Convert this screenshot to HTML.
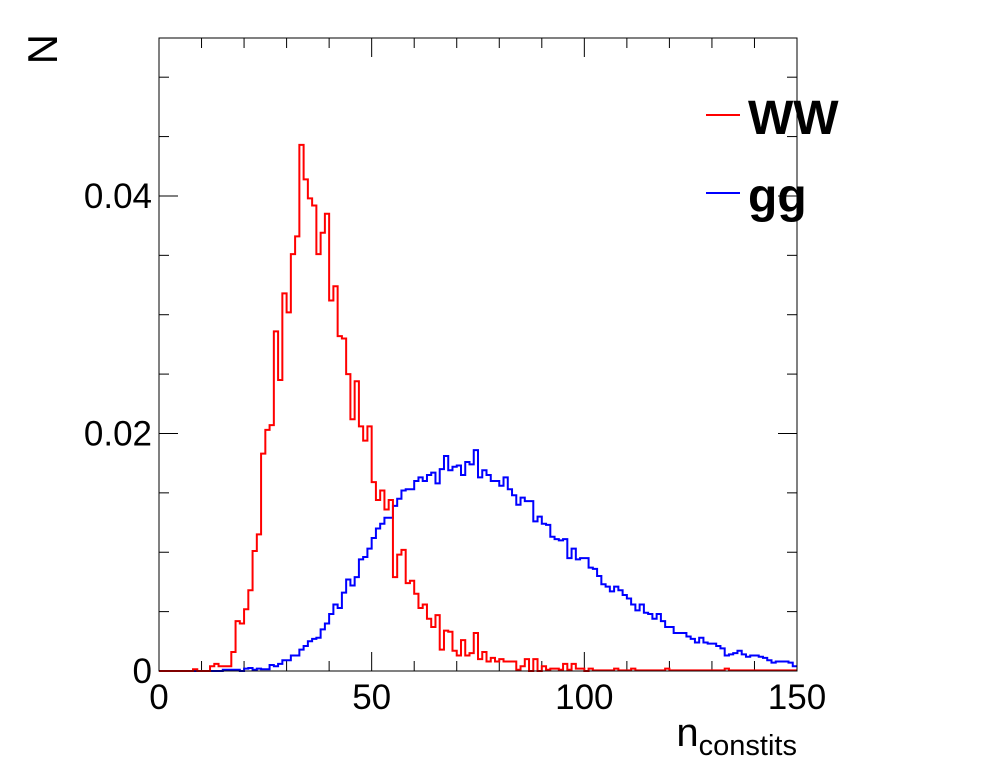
<!DOCTYPE html>
<html><head><meta charset="utf-8"><style>
body{margin:0;background:#fff;}
svg{display:block;font-family:"Liberation Sans",sans-serif;}
</style></head><body>
<svg id="chart" width="996" height="772" viewBox="0 0 996 772">
<rect x="0" y="0" width="996" height="772" fill="#fff"/>
<g id="ticks"></g>
<g id="series"></g>
<rect x="159" y="38" width="638" height="633" fill="none" stroke="#000" stroke-width="1"/>
<text transform="translate(57,34) rotate(-90)" font-size="42" text-anchor="end">N</text>
<text x="797" y="746" font-size="40" text-anchor="end">n<tspan font-size="29" dy="9">constits</tspan></text>
<g>
<line x1="706" y1="115" x2="740" y2="115" stroke="#f00" stroke-width="2"/>
<text x="748" y="134" font-size="48" font-weight="bold">WW</text>
<line x1="706" y1="193" x2="740" y2="193" stroke="#00f" stroke-width="2"/>
<text x="748" y="212" font-size="48" font-weight="bold">gg</text>
</g>
</svg>
<script>
const xTickLabels = [0, 50, 100, 150];
const yTickLabels = [0, 0.02, 0.04];
const wwValues = [0,0,0,0,0,0,0,0,0.00015,0,0,0,0.0004,0.0006,0.0004,0.0004,0.0004,0.0016,0.0042,0.0040,
0.0052,0.0068,0.0101,0.0115,0.0183,0.0203,0.0207,0.0286,0.0245,0.0318,0.0302,0.0351,0.0366,0.0443,0.0414,0.0398,0.0392,0.0351,0.0369,0.0385,
0.0312,0.0324,0.0282,0.0280,0.0250,0.0212,0.0244,0.0206,0.0194,0.0206,0.0159,0.0144,0.0152,0.0136,0.0144,0.0079,0.0098,0.0102,0.0074,0.0076,
0.0065,0.0053,0.0056,0.0044,0.0037,0.0047,0.0018,0.0034,0.0033,0.0017,0.0013,0.0026,0.0013,0.0015,0.0032,0.0010,0.0016,0.0008,0.0011,0.0008,
0.0010,0.0008,0.0008,0.0008,0.0001,0.0004,0.0010,0,0.0010,0,0.0004,0.0001,0.0002,0.0002,0.0001,0.0006,0.0001,0.0006,0.0002,0.0002,
0,0.0002,0.00005,0.00005,0.00005,0.00005,0.00005,0.0002,0.00005,0.00005,0.00005,0.0002,0.00005,0.00005,0.00005,0.00005,0.00005,0.00005,0.00005,0.0002,
0.00005,0.00005,0.00005,0.00005,0.00005,0.00005,0.00005,0.00005,0.00005,0.00005,0.00005,0.00005,0.00005,0.0002,0.00005,0.00005,0.00005,0.00005,0.00005,0.00005,
0.00005,0.00005,0.00005,0.00005,0.00005,0.00005,0.00005,0.00005,0.00005,0.00005];
const ggValues = [0,0,0,0,0,0,0,0,0,0,0,0,0,0,0,0.0001,0.0001,0.0001,0.0001,0,
0.0002,0.00025,0.0001,0.0002,0.00015,0.00015,0.0005,0.0004,0.0006,0.0009,0.0009,0.0013,0.0013,0.0018,0.0021,0.0025,0.0027,0.0028,0.0035,0.0040,
0.0048,0.0056,0.0053,0.0066,0.0077,0.0072,0.0079,0.0094,0.0096,0.0103,0.0112,0.0120,0.0124,0.0129,0.0129,0.0139,0.0145,0.0152,0.0153,0.0153,
0.0160,0.0163,0.0160,0.0165,0.0167,0.0158,0.0170,0.0181,0.0169,0.0172,0.0173,0.0165,0.0176,0.0174,0.0186,0.0163,0.0169,0.0165,0.0160,0.0160,
0.0156,0.0163,0.0153,0.0148,0.0140,0.0146,0.0143,0.0143,0.0126,0.0130,0.0124,0.0123,0.0113,0.0111,0.0110,0.0111,0.0095,0.0103,0.0094,0.0095,
0.0095,0.0087,0.0086,0.0080,0.0073,0.0071,0.0067,0.0071,0.0068,0.0064,0.0061,0.0056,0.0051,0.0056,0.0049,0.0048,0.0044,0.0048,0.0042,0.0037,
0.0037,0.0032,0.0032,0.0032,0.0029,0.0027,0.0024,0.0028,0.0024,0.0023,0.0023,0.0021,0.0019,0.0013,0.0014,0.0015,0.0017,0.0014,0.0012,0.0013,
0.0013,0.0012,0.0011,0.0009,0.0007,0.0008,0.0008,0.0008,0.0007,0.0004];

const X0=159, X1=797, Y0=671, Y1=38, XMIN=0, XMAX=150, YMAX=0.0533;
const sx = v => X0 + (v - XMIN) / (XMAX - XMIN) * (X1 - X0);
const sy = v => Y0 - v / YMAX * (Y0 - Y1);
const NS = 'http://www.w3.org/2000/svg';
const tg = document.getElementById('ticks');
const sg = document.getElementById('series');

function line(g, x1, y1, x2, y2, name) {
  const l = document.createElementNS(NS, 'line');
  l.setAttribute('x1', x1); l.setAttribute('y1', y1);
  l.setAttribute('x2', x2); l.setAttribute('y2', y2);
  l.setAttribute('stroke', '#000'); l.setAttribute('stroke-width', '1');
  
  
  g.appendChild(l);
}
function text(g, x, y, s, anchor, name) {
  const t = document.createElementNS(NS, 'text');
  t.setAttribute('x', x); t.setAttribute('y', y);
  t.setAttribute('font-size', '35'); t.setAttribute('text-anchor', anchor);
  t.textContent = s;
  
  
  g.appendChild(t);
}
for (let v = 0; v <= 150; v += 10) {
  const major = v % 50 === 0;
  const len = major ? 19 : 10;
  line(tg, sx(v), Y0, sx(v), Y0 - len, 'x-tick');
  line(tg, sx(v), Y1, sx(v), Y1 + len, 'x-tick-top');
}
xTickLabels.forEach(v => text(tg, sx(v), 709, String(v), 'middle', 'x-tick-label'));
for (let i = 0; i * 0.005 <= YMAX + 1e-9; i++) {
  const v = i * 0.005;
  const len = i % 4 === 0 ? 19 : 10;
  line(tg, X0, sy(v), X0 + len, sy(v), 'y-tick');
  line(tg, X1, sy(v), X1 - len, sy(v), 'y-tick-right');
}
yTickLabels.forEach(v => text(tg, 152, sy(v) + 12, String(v), 'end', 'y-tick-label'));

function hist(vals, color, name) {
  const w = (XMAX - XMIN) / vals.length;
  let d = 'M' + sx(XMIN) + ',' + sy(0);
  vals.forEach((v, i) => {
    d += ' L' + sx(XMIN + i * w) + ',' + sy(v) + ' L' + sx(XMIN + (i + 1) * w) + ',' + sy(v);
  });
  const p = document.createElementNS(NS, 'path');
  p.setAttribute('d', d);
  p.setAttribute('fill', 'none');
  p.setAttribute('stroke', color);
  p.setAttribute('stroke-width', '2');
  
  
  sg.appendChild(p);
}
hist(ggValues, '#00f', 'gg-histogram');
hist(wwValues, '#f00', 'ww-histogram');
</script>
</body></html>
